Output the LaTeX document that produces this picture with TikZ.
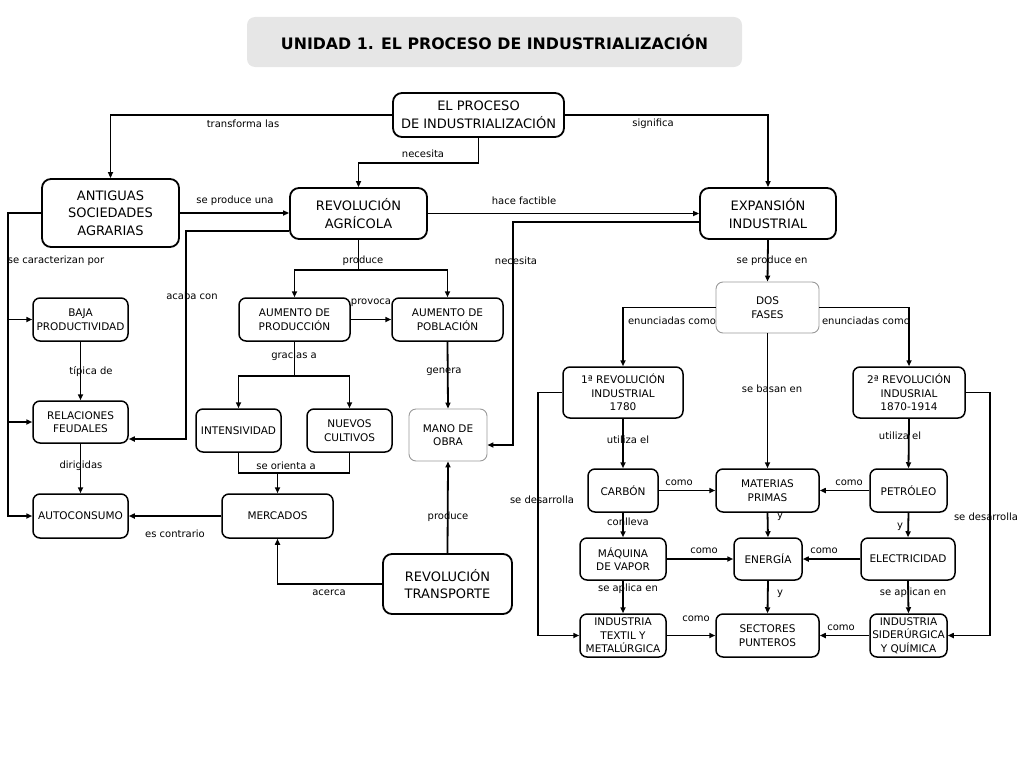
\documentclass[tikz,border=0pt]{standalone}
\usepackage{fontspec}
\setmainfont{DejaVu Sans}
\usetikzlibrary{arrows.meta}
\definecolor{titlegray}{HTML}{E6E6E6}
\tikzset{
  sz/.style 2 args={minimum width=#1pt, minimum height=#2pt},
  box/.style={draw, rounded corners=7pt, line width=1.5pt, align=center,
    inner sep=1pt, font=\fontsize{10.5}{13.5}\selectfont},
  bigbox/.style={box, rounded corners=9pt, line width=1.8pt,
    font=\fontsize{13}{17.5}\selectfont},
  softbox/.style={box, draw=black!40, line width=0.9pt},
  lbl/.style={inner sep=0pt, font=\fontsize{10}{12}\selectfont},
  line/.style={line width=1.8pt},
  conn/.style={line, -{Triangle[length=6pt,width=5pt]}},
}
\begin{document}
\begin{tikzpicture}[x=1pt,y=-1pt]
  \useasboundingbox (0,0) rectangle (1024,768);
  % title
  \node[fill=titlegray, rounded corners=8pt, sz={495}{50},
    font=\fontsize{15.8}{18}\bfseries] (title) at (494.5,42)
    {UNIDAD 1. EL PROCESO DE INDUSTRIALIZACIÓN};

  % first level
  \node[bigbox, sz={171}{44}] (proceso) at (478.5,115) {EL PROCESO\\DE INDUSTRIALIZACIÓN};
  \node[bigbox, sz={137}{68}] (antiguas) at (110.5,213) {ANTIGUAS\\SOCIEDADES\\AGRARIAS};
  \node[bigbox, sz={137}{51}] (agricola) at (358.5,213.5) {REVOLUCIÓN\\AGRÍCOLA};
  \node[bigbox, sz={136}{51}] (expansion) at (768,213.5) {EXPANSIÓN\\INDUSTRIAL};

  % left part
  \node[box, sz={95}{43}] (baja) at (80.5,319.5) {BAJA\\PRODUCTIVIDAD};
  \node[box, sz={95}{42}] (feudales) at (80.5,422) {RELACIONES\\FEUDALES};
  \node[box, sz={95}{44}] (autoconsumo) at (80.5,516) {AUTOCONSUMO};
  \node[box, sz={111}{43}] (aumprod) at (294.5,319.5) {AUMENTO DE\\PRODUCCIÓN};
  \node[box, sz={111}{43}] (aumpob) at (447.5,319.5) {AUMENTO DE\\POBLACIÓN};
  \node[box, sz={85}{43}] (intens) at (238.5,430.5) {INTENSIVIDAD};
  \node[box, sz={85}{43}] (nuevos) at (349.5,430.5) {NUEVOS\\CULTIVOS};
  \node[softbox, sz={78}{52}] (mano) at (448,435) {MANO DE\\OBRA};
  \node[box, sz={111}{44}] (mercados) at (277.5,516) {MERCADOS};
  \node[bigbox, sz={129}{60}] (transporte) at (447.5,584) {REVOLUCIÓN\\TRANSPORTE};

  % right part
  \node[softbox, sz={103}{51}] (fases) at (767.5,307.5) {DOS\\FASES};
  \node[box, sz={120}{51}] (rev1) at (623,392.5) {1ª REVOLUCIÓN\\INDUSTRIAL\\1780};
  \node[box, sz={112}{51}] (rev2) at (909,392.5) {2ª REVOLUCIÓN\\INDUSRIAL\\1870-1914};
  \node[box, sz={70}{43}] (carbon) at (623,490.5) {CARBÓN};
  \node[box, sz={103}{43}] (materias) at (767.5,490.5) {MATERIAS\\PRIMAS};
  \node[box, sz={77}{43}] (petroleo) at (908.5,490.5) {PETRÓLEO};
  \node[box, sz={86}{42}] (maquina) at (623,559) {MÁQUINA\\DE VAPOR};
  \node[box, sz={68}{42}] (energia) at (768,559) {ENERGÍA};
  \node[box, sz={94}{42}] (electricidad) at (908,559) {ELECTRICIDAD};
  \node[box, sz={86}{43}] (textil) at (623,635.5) {INDUSTRIA\\TEXTIL Y\\METALÚRGICA};
  \node[box, sz={103}{43}] (sectores) at (767.5,635.5) {SECTORES\\PUNTEROS};
  \node[box, sz={77}{43}, inner xsep=0pt] (siderurgica) at (908.5,635.5) {INDUSTRIA\\SIDERÚRGICA\\Y QUÍMICA};

  % connectors
  \draw[conn] (proceso.west) -| (antiguas.north);
  \draw[conn] (proceso.east) -| (expansion.north);
  \draw[conn] (proceso.south) -- ++(0,25) -| (agricola.north);
  \draw[conn] (antiguas.east) -- (antiguas.east -| agricola.west);
  \draw[conn] (agricola.east) -- (expansion.west);
  \draw[conn] (agricola.west |- 0,231) -| (186,439) -- (feudales.east |- 0,439);
  \draw[conn] (expansion.west |- 0,222) -| (513,445) -- (mano.east |- 0,445);
  \draw[conn] (antiguas.west) -| (8,516) -- (autoconsumo.west);
  \draw[conn] (baja.west -| 8,0) -- (baja.west);
  \draw[conn] (feudales.west -| 8,0) -- (feudales.west);
  \draw[conn] (baja.south) -- (feudales.north);
  \draw[conn] (feudales.south) -- (autoconsumo.north);
  \draw[line] (agricola.south) -- ++(0,30) coordinate (prodfork);
  \draw[conn] (prodfork) -| (aumprod.north);
  \draw[conn] (prodfork) -| (aumpob.north);
  \draw[conn] (aumprod.east) -- (aumpob.west);
  \draw[line] (aumprod.south) -- ++(0,34) coordinate (gracfork);
  \draw[conn] (gracfork) -| (intens.north);
  \draw[conn] (gracfork) -| (nuevos.north);
  \draw[line] (intens.south) |- (nuevos.south |- 0,473) -- (nuevos.south);
  \draw[conn] (mercados.north |- 0,473) -- (mercados.north);
  \draw[conn] (mercados.west) -- (autoconsumo.east);
  \draw[conn] (aumpob.south) -- (mano.north);
  \draw[conn] (transporte.north) -- (mano.south);
  \draw[conn] (transporte.west) -| (mercados.south);
  \draw[conn] (expansion.south) -- (fases.north);
  \draw[conn] (fases.west) -| (rev1.north);
  \draw[conn] (fases.east) -| (rev2.north);
  \draw[conn] (fases.south) -- (materias.north);
  \draw[conn] (rev1.south) -- (carbon.north);
  \draw[conn] (rev2.south) -- (petroleo.north);
  \draw[conn] (rev1.west) -| (538,635.5) -- (textil.west);
  \draw[conn] (rev2.east) -| (990,635.5) -- (siderurgica.east);
  \draw[conn] (carbon.east) -- (materias.west);
  \draw[conn] (petroleo.west) -- (materias.east);
  \draw[conn] (carbon.south) -- (maquina.north);
  \draw[conn] (materias.south) -- (energia.north);
  \draw[conn] (petroleo.south) -- (electricidad.north);
  \draw[conn] (maquina.east) -- (energia.west);
  \draw[conn] (electricidad.west) -- (energia.east);
  \draw[conn] (maquina.south) -- (textil.north);
  \draw[conn] (energia.south) -- (sectores.north);
  \draw[conn] (electricidad.south) -- (siderurgica.north);
  \draw[conn] (textil.east) -- (sectores.west);
  \draw[conn] (siderurgica.west) -- (sectores.east);

  % connector labels
  \node[lbl] (l-transforma) at (243,124) {transforma las};
  \node[lbl] (l-significa) at (653,124) {significa};
  \node[lbl] (l-necesita1) at (423,154) {necesita};
  \node[lbl] (l-seproduce) at (235,201) {se produce una};
  \node[lbl] (l-factible) at (524,201) {hace factible};
  \node[lbl] (l-caract) at (56,261) {se caracterizan por};
  \node[lbl] (l-produce1) at (363,261) {produce};
  \node[lbl] (l-necesita2) at (516,261) {necesita};
  \node[lbl] (l-produceen) at (772,261) {se produce en};
  \node[lbl] (l-acaba) at (192,296) {acaba con};
  \node[lbl] (l-provoca) at (371,303) {provoca};
  \node[lbl] (l-enun1) at (672,321) {enunciadas como};
  \node[lbl] (l-enun2) at (866,321) {enunciadas como};
  \node[lbl] (l-gracias) at (294,356) {gracias a};
  \node[lbl] (l-tipica) at (91,372) {típica de};
  \node[lbl] (l-genera) at (444,372) {genera};
  \node[lbl] (l-basan) at (772,389) {se basan en};
  \node[lbl] (l-utiliza1) at (628,440) {utiliza el};
  \node[lbl] (l-utiliza2) at (900,436) {utiliza el};
  \node[lbl] (l-dirigidas) at (81,466) {dirigidas};
  \node[lbl] (l-orienta) at (286,466) {se orienta a};
  \node[lbl] (l-desarr1) at (542,500) {se desarrolla};
  \node[lbl] (l-como1) at (679,483) {como};
  \node[lbl] (l-como2) at (849,483) {como};
  \node[lbl] (l-desarr2) at (986,517) {se desarrolla};
  \node[lbl] (l-produce2) at (448,517) {produce};
  \node[lbl] (l-conlleva) at (628,522) {conlleva};
  \node[lbl] (l-y1) at (780,517) {y};
  \node[lbl] (l-y2) at (900,527) {y};
  \node[lbl] (l-contrario) at (175,534) {es contrario};
  \node[lbl] (l-como3) at (704,551) {como};
  \node[lbl] (l-como4) at (824,551) {como};
  \node[lbl] (l-aplica) at (628,589) {se aplica en};
  \node[lbl] (l-y3) at (780,594) {y};
  \node[lbl] (l-aplican) at (913,593) {se aplican en};
  \node[lbl] (l-acerca) at (329,593) {acerca};
  \node[lbl] (l-como5) at (696,619) {como};
  \node[lbl] (l-como6) at (841,628) {como};
\end{tikzpicture}
\end{document}
